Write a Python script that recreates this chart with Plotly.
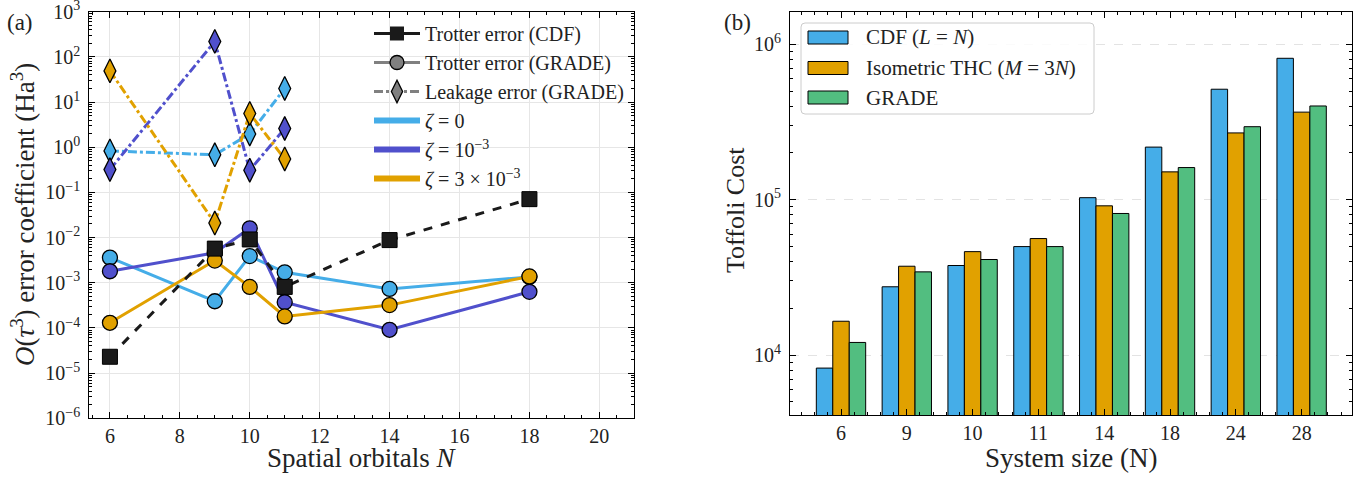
import plotly.graph_objects as go

# ---------------- data: panel (a) ----------------
N_orb = [6, 9, 10, 11, 14, 18]
cdf_trotter = [2.3e-5, 5.7e-3, 9.1e-3, 8.1e-4, 8.8e-3, 7.1e-2]
grade_trotter_z0 = [3.6e-3, 3.9e-4, 3.9e-3, 1.7e-3, 7.3e-4, 1.35e-3]
grade_trotter_z1 = [1.8e-3, 4.6e-3, 1.6e-2, 3.7e-4, 9.1e-5, 6.3e-4]
grade_trotter_z3 = [1.3e-4, 3.1e-3, 8.1e-4, 1.8e-4, 3.2e-4, 1.38e-3]
leak_N = [6, 9, 10, 11]
leak_z0 = [0.83, 0.68, 1.97, 20]
leak_z1 = [0.32, 220, 0.31, 2.6]
leak_z3 = [49, 0.021, 5.6, 0.55]
exp_a = [-6, -5, -4, -3, -2, -1, 0, 1, 2, 3]

# ---------------- data: panel (b) ----------------
sizes = ["6", "9", "10", "11", "14", "18", "24", "28"]
cost_cdf = [8240, 27500, 37700, 49900, 103000, 218000, 514000, 813000]
cost_thc = [16500, 37300, 46300, 56200, 91300, 151000, 269000, 366000]
cost_grade = [12050, 34300, 41200, 49900, 81500, 161000, 295000, 401000]
bar_names = ["CDF (<i>L</i> = <i>N</i>)", "Isometric THC (<i>M</i> = 3<i>N</i>)", "GRADE"]
exp_b = [4, 5, 6]

C0 = "#45ADE8"
C1 = "#5050CC"
C3 = "#E1A100"
CG = "#52BE80"
FONT = "Liberation Serif"
TXT = "#222"

def pow_label(e):
    return "10<sup>" + str(e).replace("-", "−") + "</sup>"

fig = go.Figure()

zetas = [(C0, grade_trotter_z0, leak_z0), (C1, grade_trotter_z1, leak_z1), (C3, grade_trotter_z3, leak_z3)]
for col, tr, lk in zetas:
    fig.add_trace(go.Scatter(x=leak_N, y=lk, mode="lines+markers", showlegend=False,
                             line=dict(color=col, width=3, dash="dashdot"),
                             marker=dict(symbol="diamond-tall", size=17, color=col,
                                         line=dict(color="black", width=1.3)),
                             xaxis="x", yaxis="y"))
for col, tr, lk in zetas:
    fig.add_trace(go.Scatter(x=N_orb, y=tr, mode="lines+markers", showlegend=False,
                             line=dict(color=col, width=3),
                             marker=dict(symbol="circle", size=15, color=col,
                                         line=dict(color="black", width=1.3)),
                             xaxis="x", yaxis="y"))
fig.add_trace(go.Scatter(x=N_orb, y=cdf_trotter, mode="lines+markers", showlegend=False,
                         line=dict(color="#1a1a1a", width=3, dash="dash"),
                         marker=dict(symbol="square", size=15, color="#1a1a1a",
                                     line=dict(color="black", width=1)),
                         xaxis="x", yaxis="y"))

# legend entries (a)
leg_items = [
    ("Trotter error (CDF)", "lines+markers", dict(color="#1a1a1a", width=3), dict(symbol="square", size=14, color="#1a1a1a")),
    ("Trotter error (GRADE)", "lines+markers", dict(color="#808080", width=3), dict(symbol="circle", size=14, color="#808080", line=dict(color="black", width=1.3))),
    ("Leakage error (GRADE)", "lines+markers", dict(color="#808080", width=3, dash="dashdot"), dict(symbol="diamond-tall", size=16, color="#808080", line=dict(color="black", width=1.3))),
    ("<i>ζ</i> = 0", "lines", dict(color=C0, width=6), None),
    ("<i>ζ</i> = 10<sup>−3</sup>", "lines", dict(color=C1, width=6), None),
    ("<i>ζ</i> = 3 × 10<sup>−3</sup>", "lines", dict(color=C3, width=6), None),
]
for i, (name, mode, ln, mk) in enumerate(leg_items):
    kw = dict(x=[None], y=[None], mode=mode, name=name, line=ln, legend="legend",
              legendgroup=f"g{i}", xaxis="x", yaxis="y")
    if mk:
        kw["marker"] = mk
    fig.add_trace(go.Scatter(**kw))

# bars (b)
xs = list(range(len(sizes)))
bar_cols = [C0, C3, CG]
for name, vals, col in zip(bar_names, [cost_cdf, cost_thc, cost_grade], bar_cols):
    fig.add_trace(go.Bar(x=xs, y=vals, name=name, showlegend=False,
                         marker=dict(color=col, line=dict(color="black", width=1)),
                         xaxis="x2", yaxis="y2"))

W, H = 1372, 477
ax_common = dict(showline=True, linecolor="black", linewidth=1.2, mirror="ticks", ticks="inside",
                 tickcolor="black", ticklen=6, tickwidth=1, zeroline=False, automargin=False,
                 ticklabeloverflow="allow",
                 tickfont=dict(family=FONT, size=20, color=TXT))

def ylog_minor(lo, hi):
    out = []
    for e in range(lo, hi):
        for m in range(2, 10):
            out.append(m * 10 ** e)
    return out

# custom legend for panel (b): rounded box, wide swatches, labels
shapes = []
bx0, by0, bx1, by1, r = 801, 23, 1094, 114, 4
shapes.append(dict(type="path", xref="paper", yref="paper",
                   path=(f"M {(bx0 + r) / W},{1 - by0 / H} L {(bx1 - r) / W},{1 - by0 / H} "
                         f"Q {bx1 / W},{1 - by0 / H} {bx1 / W},{1 - (by0 + r) / H} "
                         f"L {bx1 / W},{1 - (by1 - r) / H} Q {bx1 / W},{1 - by1 / H} {(bx1 - r) / W},{1 - by1 / H} "
                         f"L {(bx0 + r) / W},{1 - by1 / H} Q {bx0 / W},{1 - by1 / H} {bx0 / W},{1 - (by1 - r) / H} "
                         f"L {bx0 / W},{1 - (by0 + r) / H} Q {bx0 / W},{1 - by0 / H} {(bx0 + r) / W},{1 - by0 / H} Z"),
                   fillcolor="rgba(255,255,255,0.85)", line=dict(color="#cccccc", width=1)))
annotations = []
for k, (name, col) in enumerate(zip(bar_names, bar_cols)):
    yc = [37.5, 68, 97.5][k]
    shapes.append(dict(type="rect", xref="paper", yref="paper", x0=808 / W, x1=848 / W,
                       y0=1 - (yc - 6.5) / H, y1=1 - (yc + 6.5) / H, fillcolor=col,
                       line=dict(color="black", width=1)))
    annotations.append(dict(text=name, x=864 / W, y=1 - yc / H, xref="paper", yref="paper",
                            xanchor="left", yanchor="middle", showarrow=False,
                            font=dict(family=FONT, size=21, color=TXT)))

annotations += [
    dict(text="(a)", x=5 / W, y=1 - 22 / H, xref="paper", yref="paper", xanchor="left", yanchor="middle",
         showarrow=False, font=dict(family=FONT, size=23, color=TXT)),
    dict(text="(b)", x=722 / W, y=1 - 22 / H, xref="paper", yref="paper", xanchor="left", yanchor="middle",
         showarrow=False, font=dict(family=FONT, size=23, color=TXT)),
    dict(text="<i>O</i>(<i>τ</i><sup>3</sup>) error coefficient (Ha<sup>3</sup>)", x=23 / W, y=1 - 215 / H,
         xref="paper", yref="paper", textangle=-90, showarrow=False, xanchor="center", yanchor="middle",
         font=dict(family=FONT, size=27, color=TXT)),
    dict(text="Spatial orbitals <i>N</i>", x=361 / W, y=1 - 458 / H, xref="paper", yref="paper",
         xanchor="center", yanchor="middle",
         showarrow=False, font=dict(family=FONT, size=27, color=TXT)),
    dict(text="Toffoli Cost", x=735 / W, y=1 - 210 / H, xref="paper", yref="paper", textangle=-90,
         xanchor="center", yanchor="middle",
         showarrow=False, font=dict(family=FONT, size=26, color=TXT)),
    dict(text="System size (N)", x=1071 / W, y=1 - 458 / H, xref="paper", yref="paper",
         xanchor="center", yanchor="middle",
         showarrow=False, font=dict(family=FONT, size=27, color=TXT)),
]

fig.update_layout(
    width=W, height=H, margin=dict(l=0, r=0, t=0, b=0, autoexpand=False),
    plot_bgcolor="white", paper_bgcolor="white",
    font=dict(family=FONT, color=TXT),
    barmode="group", bargap=0.25, bargroupgap=0,
    xaxis=dict(domain=[89.3 / W, 634.3 / W], range=[5.41, 21], tick0=0, dtick=2,
               showgrid=True, gridcolor="#e6e6e6", gridwidth=1, anchor="y",
               minor=dict(ticks="inside", ticklen=3, tickcolor="black", dtick=0.5, tick0=0, showgrid=False),
               **ax_common),
    yaxis=dict(domain=[1 - 418.3 / H, 1 - 11.7 / H], type="log", range=[-6.0005, 3.0005],
               tickvals=[10.0 ** e for e in exp_a], ticktext=[pow_label(e) for e in exp_a],
               ticklabelstandoff=4,
               showgrid=True, gridcolor="#e6e6e6", gridwidth=1, anchor="x",
               minor=dict(ticks="inside", ticklen=3, tickcolor="black", tickvals=ylog_minor(-6, 3), showgrid=False),
               **ax_common),
    xaxis2=dict(domain=[790 / W, 1352.3 / W], range=[-0.775, 7.77], tickvals=xs, ticktext=sizes,
                showgrid=False, anchor="y2",
                minor=dict(ticks="inside", ticklen=3, tickcolor="black", dtick=0.2, tick0=0, showgrid=False),
                **ax_common),
    yaxis2=dict(domain=[1 - 415 / H, 1 - 11.7 / H], type="log", range=[3.614, 6.21],
                tickvals=[10.0 ** e for e in exp_b], ticktext=[pow_label(e) for e in exp_b],
                ticklabelstandoff=4,
                showgrid=True, gridcolor="#e3e3e3", griddash="dash", gridwidth=1,
                anchor="x2",
                minor=dict(ticks="inside", ticklen=3, tickcolor="black", tickvals=ylog_minor(3, 7), showgrid=False),
                **ax_common),
    legend=dict(x=369 / W, y=1 - 14 / H, xanchor="left", yanchor="top", bgcolor="rgba(0,0,0,0)",
                font=dict(family=FONT, size=20, color=TXT), traceorder="grouped", tracegroupgap=0,
                itemwidth=46),
    shapes=shapes,
    annotations=annotations,
)

fig.write_html("out.html", config={"displayModeBar": False},
               post_script="document.body.style.margin='0';document.body.style.overflow='hidden';")
